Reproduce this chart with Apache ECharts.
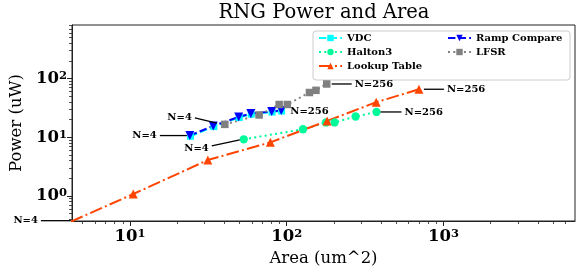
<!DOCTYPE html>
<html><head><meta charset="utf-8">
<script src="https://cdn.jsdelivr.net/npm/echarts@6/dist/echarts.min.js"></script>
<style>html,body{margin:0;padding:0;background:#fff}#c{width:585px;height:274px}</style>
</head><body><div id="c"></div>
<script>
// ---- data ----
const seriesNames = ['VDC', 'Halton3', 'Lookup Table', 'Ramp Compare', 'LFSR'];
const vdcArea = [24.3, 34.3, 49.8, 59.4, 80.6, 92.8];
const vdcPower = [10.4, 15.2, 21.7, 24.8, 26.9, 28.0];
const haltonArea = [53.2, 127, 178, 202, 275, 374];
const haltonPower = [9.25, 13.7, 17.9, 17.9, 22.6, 27.0];
const lookupArea = [4.2, 10.5, 31.4, 78.7, 181, 372, 697];
const lookupPower = [0.365, 1.08, 4.1, 8.2, 19.0, 39.5, 65.8];
const rampArea = [24.1, 34.0, 49.4, 59.0, 80.2, 92.3];
const rampPower = [10.7, 15.6, 22.2, 25.4, 27.5, 28.6];
const lfsrArea = [40.3, 66.7, 89.5, 100.9, 139.6, 153.7, 179.9];
const lfsrPower = [16.6, 24.0, 36.2, 36.2, 57.9, 63.1, 80.9];
const xMajorTicks = [10, 100, 1000];
const yMajorTicks = [1, 10, 100];
const xRange = [4.27, 6900];
const yRange = [0.375, 818];

// ---- annotations: which point, label, and pixel offsets (layout) ----
const annotations = [
  {series: 'Lookup Table', index: 0, text: 'N=4', near: [0, -1], far: [-30, -1], side: 'left'},
  {series: 'Ramp Compare', index: 0, text: 'N=4', near: [-3, 0], far: [-30, 0], side: 'left'},
  {series: 'LFSR', index: 0, text: 'N=4', near: [-8, -1.2], far: [-30, -6.6], side: 'left', ty: -0.5},
  {series: 'Halton3', index: 0, text: 'N=4', near: [-4, 0.7], far: [-32, 6.7], side: 'left', ty: 2},
  {series: 'Ramp Compare', index: 5, text: 'N=256', near: null, far: [6, 0.5], side: 'right'},
  {series: 'LFSR', index: 6, text: 'N=256', near: [5, 0], far: [25, 0], side: 'right'},
  {series: 'Halton3', index: 5, text: 'N=256', near: [4, 0], far: [25, 0], side: 'right'},
  {series: 'Lookup Table', index: 6, text: 'N=256', near: [5, 0], far: [25, 0], side: 'right'}
];

const FONT = 'DejaVu Serif';
function zip(a, b) { return a.map((v, i) => [v, b[i]]); }
const seriesData = [
  zip(vdcArea, vdcPower), zip(haltonArea, haltonPower), zip(lookupArea, lookupPower),
  zip(rampArea, rampPower), zip(lfsrArea, lfsrPower)
];
function minorTicks(lo, hi) {
  const out = [];
  for (let e = -2; e <= 4; e++) for (let k = 2; k <= 9; k++) {
    const v = +(k * Math.pow(10, e)).toPrecision(3);
    if (v > lo && v < hi) out.push(v);
  }
  return out;
}
const supFmt = v => '{b|10}{s|' + Math.round(Math.log10(v)) + '}';
const rich = {
  b: {fontFamily: FONT, fontWeight: 'bold', fontSize: 16.5, color: '#000'},
  s: {fontFamily: FONT, fontWeight: 'bold', fontSize: 11.5, color: '#000', verticalAlign: 'top'}
};
const AX = '#222';

function majorAxis(range, ticks, extra, margin) {
  return Object.assign({
    type: 'log', logBase: 10, min: range[0], max: range[1],
    axisLine: {show: true, lineStyle: {color: AX, width: 1}},
    axisTick: {show: true, customValues: ticks, length: 5, lineStyle: {color: AX, width: 1}},
    axisLabel: {customValues: ticks, formatter: supFmt, rich: rich, margin: margin},
    splitLine: {show: false}, minorTick: {show: false}
  }, extra);
}
function minorAxis(range, extra) {
  return Object.assign({
    type: 'log', logBase: 10, min: range[0], max: range[1],
    axisLine: {show: false},
    axisTick: {show: true, customValues: minorTicks(range[0], range[1]), length: 3, lineStyle: {color: AX, width: 0.8}},
    axisLabel: {show: false}, splitLine: {show: false}
  }, extra);
}

const styles = {
  'VDC': {color: '#00FFFF', symbol: 'rect', size: 7, dash: [7.4, 3.2]},
  'Halton3': {color: '#00FA9A', symbol: 'circle', size: 8.3, dash: [2, 3.3]},
  'Lookup Table': {color: '#FF4500', symbol: 'triangle', size: 9, dash: [12.8, 3.2, 2, 3.2]},
  'Ramp Compare': {color: '#0000FF', symbol: 'triangle', size: 9, dash: [7.4, 3.2], rotate: 180},
  'LFSR': {color: '#808080', symbol: 'rect', size: 7.5, dash: [2, 3.3]}
};

const option = {
  animation: false,
  backgroundColor: '#fff',
  title: {text: 'RNG Power and Area', left: 324, textAlign: 'center', top: 3, padding: 0,
    textStyle: {fontFamily: FONT, fontWeight: 'normal', fontSize: 19.5, color: '#000'}},
  grid: {left: 72, right: 10, top: 25, bottom: 53, show: true, borderColor: AX, borderWidth: 1,
    backgroundColor: 'transparent', containLabel: false},
  xAxis: [
    majorAxis(xRange, xMajorTicks, {name: 'Area (um^2)', nameLocation: 'middle', nameGap: 27,
      nameTextStyle: {fontFamily: FONT, fontSize: 16.5, color: '#000'}}, 7),
    minorAxis(xRange, {position: 'bottom'})
  ],
  yAxis: [
    majorAxis(yRange, yMajorTicks, {name: 'Power (uW)', nameLocation: 'middle', nameGap: 41,
      nameTextStyle: {fontFamily: FONT, fontSize: 16.5, color: '#000'}}, 5),
    minorAxis(yRange, {position: 'left'})
  ],
  legend: [
    {data: ['VDC', 'Halton3', 'Lookup Table'], orient: 'vertical', left: 318, top: 33,
      itemWidth: 23, itemHeight: 8, itemGap: 4, padding: 0,
      textStyle: {fontFamily: FONT, fontWeight: 'bold', fontSize: 10, color: '#000'}},
    {data: ['Ramp Compare', 'LFSR'], orient: 'vertical', left: 447, top: 33,
      itemWidth: 23, itemHeight: 8, itemGap: 4, padding: 0,
      textStyle: {fontFamily: FONT, fontWeight: 'bold', fontSize: 10, color: '#000'}}
  ],
  series: seriesNames.map((name, i) => {
    const st = styles[name];
    return {
      name: name, type: 'line', xAxisIndex: 0, yAxisIndex: 0,
      data: seriesData[i], symbol: st.symbol, symbolSize: st.size, symbolRotate: st.rotate || 0,
      showAllSymbol: true, clip: true, silent: true,
      itemStyle: {color: st.color, borderWidth: 0},
      lineStyle: {color: st.color, width: 2, type: st.dash},
      emphasis: {disabled: true}
    };
  })
};

const chart = echarts.init(document.getElementById('c'), null, {renderer: 'canvas'});
chart.setOption(option);

const gfx = [{
  type: 'rect', z: 3, shape: {x: 313, y: 31, width: 257, height: 49, r: 3},
  style: {fill: 'rgba(255,255,255,0.85)', stroke: '#cccccc', lineWidth: 1}
}];
annotations.forEach(a => {
  const si = seriesNames.indexOf(a.series);
  const p = chart.convertToPixel({seriesIndex: si}, seriesData[si][a.index]);
  const fx = p[0] + a.far[0], fy = p[1] + a.far[1];
  if (a.near) {
    gfx.push({type: 'line', z: 10, shape: {x1: p[0] + a.near[0], y1: p[1] + a.near[1], x2: fx, y2: fy},
      style: {stroke: '#000', lineWidth: 1.3}});
  }
  const tx = a.side === 'left' ? fx - 3 : fx + 3;
  gfx.push({type: 'text', z: 10, x: tx, y: fy + (a.ty || 0),
    style: {text: a.text, fontFamily: FONT, fontWeight: 'bold', fontSize: 10, fill: '#000',
      align: a.side === 'left' ? 'right' : 'left', verticalAlign: 'middle'}});
});
chart.setOption({graphic: gfx});
</script>
</body></html>
